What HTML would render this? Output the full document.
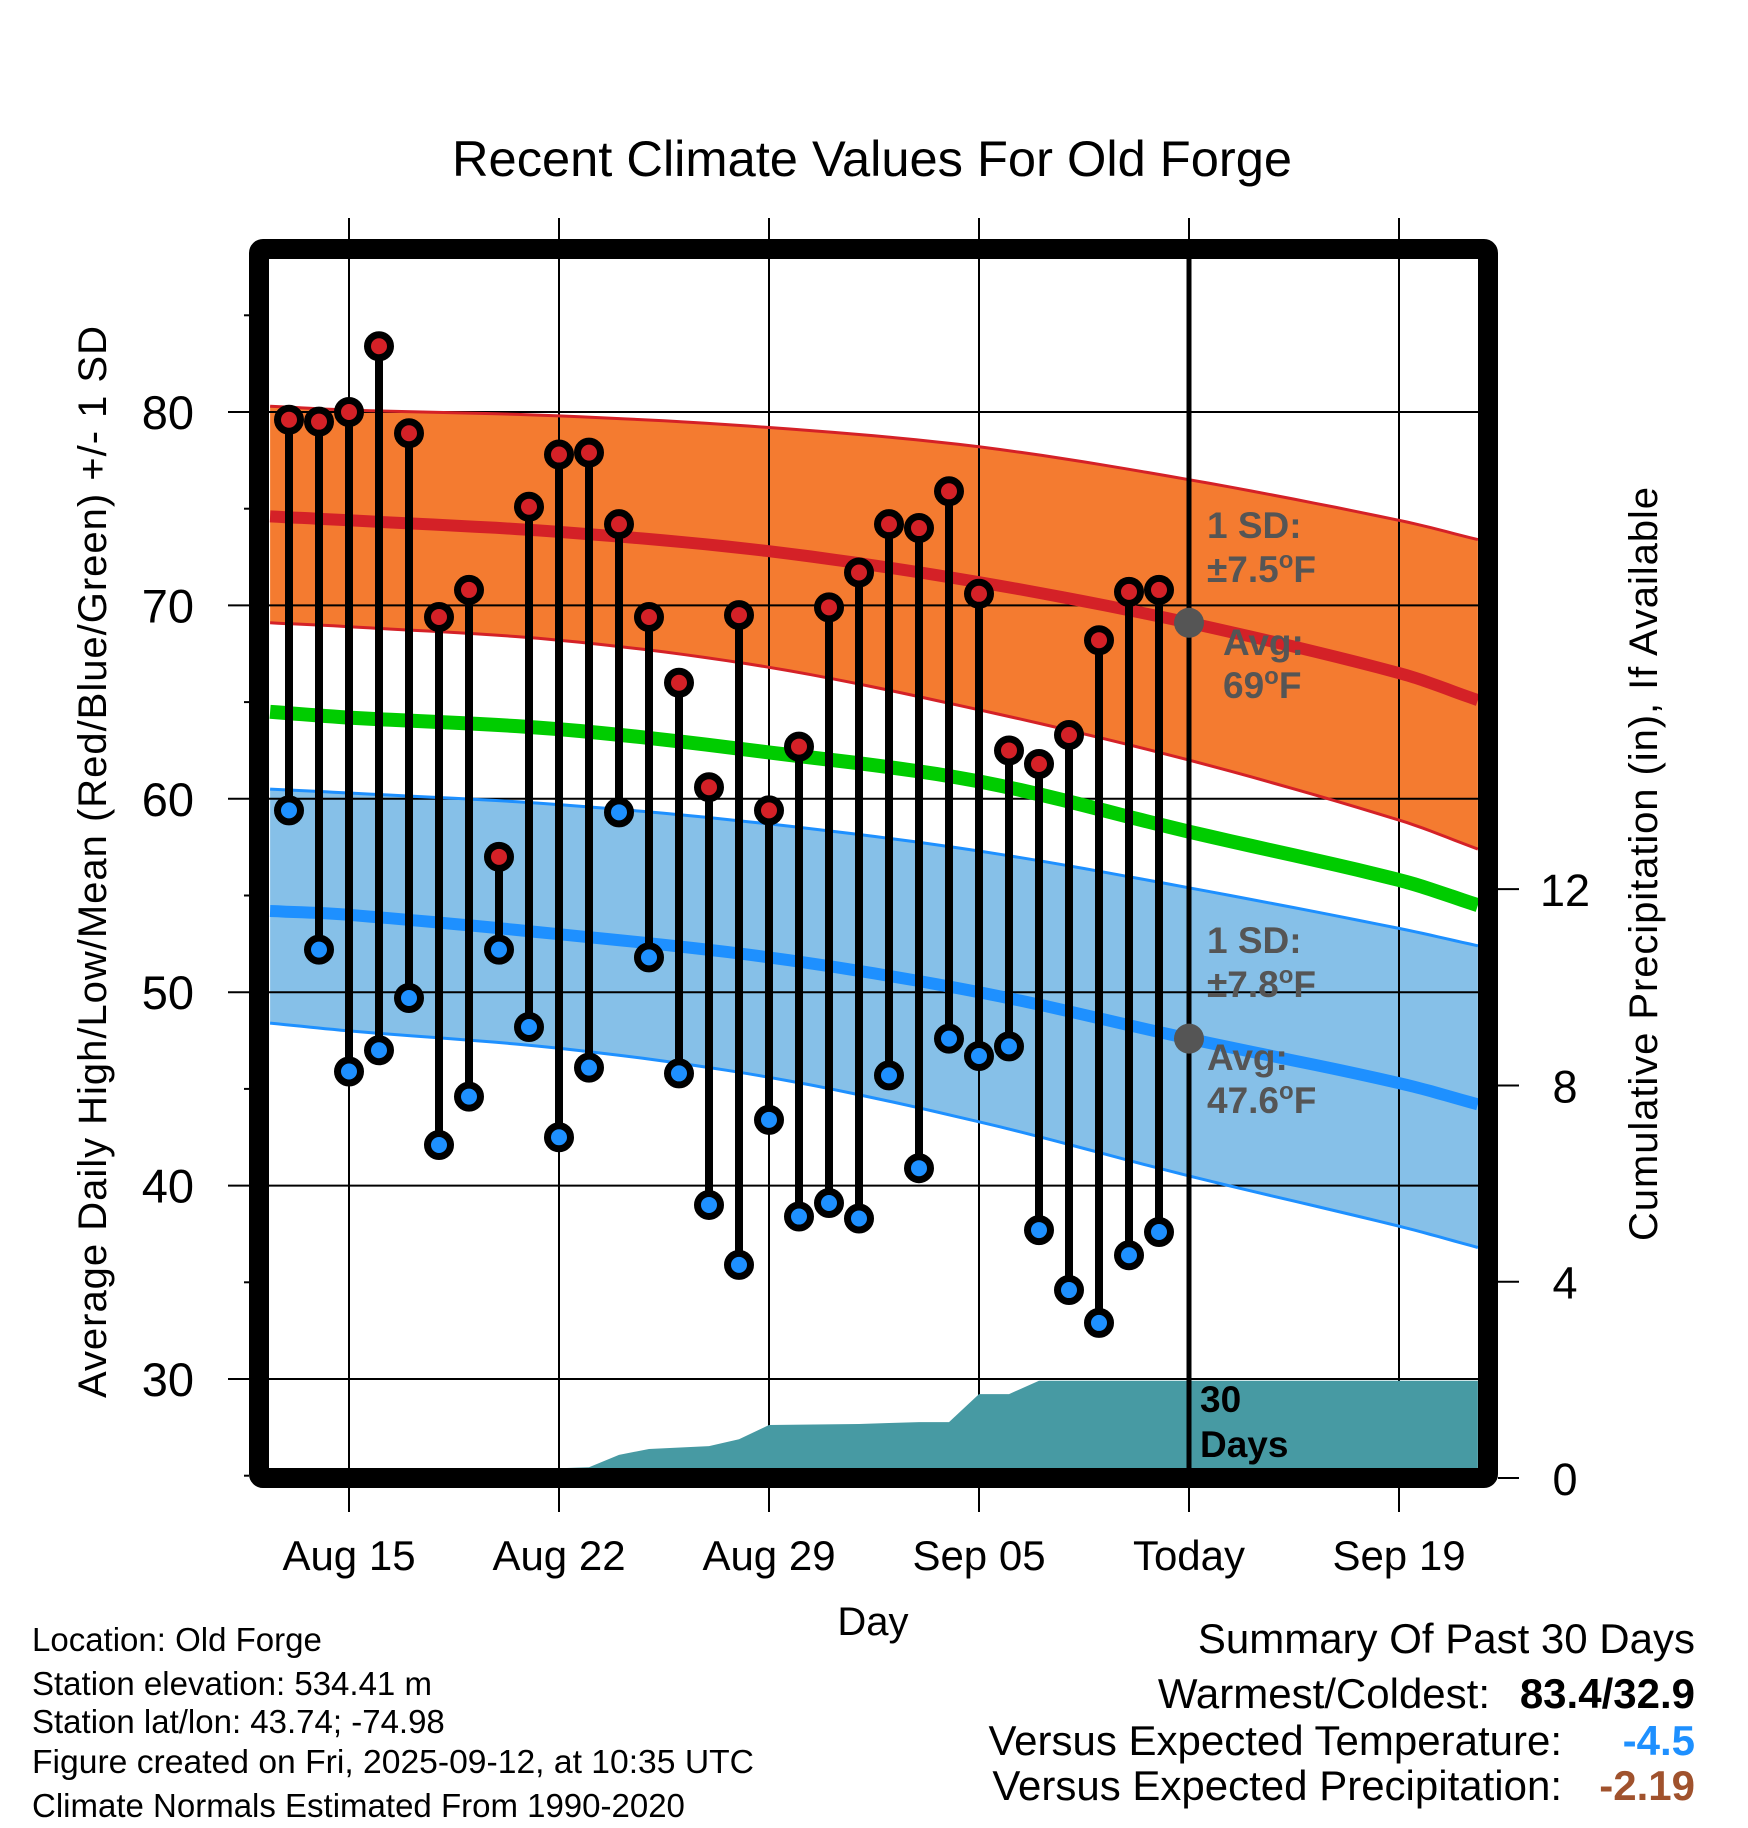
<!DOCTYPE html>
<html><head><meta charset="utf-8"><style>
html,body{margin:0;padding:0;background:#fff}
svg{display:block;font-family:"Liberation Sans",sans-serif}
</style></head><body>
<svg id="chart" width="1748" height="1828" viewBox="0 0 1748 1828" xmlns="http://www.w3.org/2000/svg">
<g id="bands"></g>
<g id="grid"></g>
<g id="precip"></g>
<g id="normals"></g>
<g id="obs"></g>
<g id="frame"></g>
<g id="labels"></g>
</svg>
<script>
// ---- data ----
const dayLabels = ["Aug 15","Aug 22","Aug 29","Sep 05","Today","Sep 19"];
const dayLabelIdx = [2,9,16,23,30,37];
const highs = [79.6,79.5,80.0,83.4,78.9,69.4,70.8,57.0,75.1,77.8,77.9,74.2,69.4,66.0,60.6,69.5,59.4,62.7,69.9,71.7,74.2,74.0,75.9,70.6,62.5,61.8,63.3,68.2,70.7,70.8];
const lows = [59.4,52.2,45.9,47.0,49.7,42.1,44.6,52.2,48.2,42.5,46.1,59.3,51.8,45.8,39.0,35.9,43.4,38.4,39.1,38.3,45.7,40.9,47.6,46.7,47.2,37.7,34.6,32.9,36.4,37.6];
const normDays = [-0.63,2,9,16,23,30,37,39.63];
const highUpper = [80.3,80.1,79.8,79.2,78.2,76.5,74.4,73.4];
const highMean = [74.6,74.4,73.8,72.8,71.2,69.1,66.5,65.1];
const highLower = [69.1,68.9,68.2,66.8,64.6,62.0,58.9,57.4];
const meanNorm = [64.5,64.2,63.6,62.4,60.9,58.3,55.8,54.5];
const lowUpper = [60.5,60.3,59.7,58.7,57.3,55.4,53.3,52.4];
const lowMean = [54.2,54.0,53.0,51.8,50.0,47.6,45.3,44.2];
const lowLower = [48.4,48.0,47.1,45.6,43.3,40.5,37.9,36.8];
const precipDays = [-0.63,6,7,9,10,11,12,14,15,16,19,20,21,22,23,24,25,29,39.63];
const precipVals = [0,0,0.2,0.2,0.22,0.47,0.59,0.65,0.79,1.08,1.10,1.12,1.14,1.14,1.71,1.71,1.98,1.98,1.98];
const tempTicks = [30,40,50,60,70,80];
const precipTicks = [0,4,8,12];
// ---- scales ----
const L=259,R=1488,T=249,B=1478;
const X=d=>289+30*d;
const Y=t=>412+(80-t)*19.34;
const P=p=>1478-p*49.07;
const NS="http://www.w3.org/2000/svg";
function mk(tag,parent,attrs){const e=document.createElementNS(NS,tag);for(const k in attrs)e.setAttribute(k,attrs[k]);document.getElementById(parent).appendChild(e);return e;}
// smooth sampling (Catmull-Rom) of a normal series
function smooth(ds,vs){const out=[];const n=ds.length;
  for(let i=0;i<n-1;i++){const p0=vs[Math.max(0,i-1)],p1=vs[i],p2=vs[i+1],p3=vs[Math.min(n-1,i+2)];
    const d0=ds[Math.max(0,i-1)],d1=ds[i],d2=ds[i+1],d3=ds[Math.min(n-1,i+2)];
    const m1=(p2-p0)/((d2-d0)||1)*(d2-d1),m2=(p3-p1)/((d3-d1)||1)*(d2-d1);
    for(let k=0;k<10;k++){const t=k/10,t2=t*t,t3=t2*t;
      const v=(2*t3-3*t2+1)*p1+(t3-2*t2+t)*m1+(-2*t3+3*t2)*p2+(t3-t2)*m2;
      out.push(X(d1+(d2-d1)*t).toFixed(1)+","+Y(v).toFixed(1));}}
  out.push(X(ds[n-1]).toFixed(1)+","+Y(vs[n-1]).toFixed(1));return out;}
let e;
e=mk('polygon','bands',{points:smooth(normDays,highUpper).concat(smooth(normDays,highLower).reverse()).join(' '),fill:'#F47B30'});


e=mk('polygon','bands',{points:smooth(normDays,lowUpper).concat(smooth(normDays,lowLower).reverse()).join(' '),fill:'#86C0E8'});


// grid
tempTicks.forEach(t=>{e=mk('line','grid',{x1:L,x2:R,y1:Y(t),y2:Y(t),stroke:'#000','stroke-width':2});

});
dayLabelIdx.forEach((d,i)=>{e=mk('line','grid',{x1:X(d),x2:X(d),y1:218,y2:1512,stroke:'#000','stroke-width':2});

});
// precip
e=mk('polygon','precip',{points:precipDays.map((d,i)=>X(d).toFixed(1)+","+P(precipVals[i]).toFixed(1)).concat([X(39.63)+","+P(0),X(-0.63)+","+P(0)]).join(' '),fill:'#479AA3'});


// band edges & normals
[[highUpper,'#D42127',3,'high-sd-upper'],[highLower,'#D42127',3,'high-sd-lower'],[lowUpper,'#1E90FF',3,'low-sd-upper'],[lowLower,'#1E90FF',3,'low-sd-lower'],[highMean,'#D42127',12,'avg-high-line'],[meanNorm,'#00CC00',14,'avg-mean-line'],[lowMean,'#1E90FF',12,'avg-low-line']].forEach(s=>{
e=mk('polyline','normals',{points:smooth(normDays,s[0]).join(' '),fill:'none',stroke:s[1],'stroke-width':s[2]});

});
e=mk('line','normals',{x1:X(30),x2:X(30),y1:T,y2:B,stroke:'#000','stroke-width':5});


// obs
highs.forEach((h,i)=>{
e=mk('line','obs',{x1:X(i),x2:X(i),y1:Y(h),y2:Y(lows[i]),stroke:'#000','stroke-width':8});

});
highs.forEach((h,i)=>{
e=mk('circle','obs',{cx:X(i),cy:Y(h),r:11.5,fill:'#D42127',stroke:'#000','stroke-width':7});


e=mk('circle','obs',{cx:X(i),cy:Y(lows[i]),r:11.5,fill:'#1E90FF',stroke:'#000','stroke-width':7});

});
e=mk('circle','obs',{cx:X(30),cy:Y(highMean[5]),r:15,fill:'#555'});


e=mk('circle','obs',{cx:X(30),cy:Y(lowMean[5]),r:15,fill:'#555'});


// frame
e=mk('rect','frame',{x:L,y:T,width:R-L,height:B-T,fill:'none',stroke:'#000','stroke-width':20,rx:4});


for(let t=25;t<=85;t+=5){e=mk('line','frame',{x1:(t%10==0)?228:244,x2:249,y1:Y(t),y2:Y(t),stroke:'#000','stroke-width':2});

}
precipTicks.forEach(p=>{e=mk('line','frame',{x1:1498,x2:1519,y1:P(p),y2:P(p),stroke:'#000','stroke-width':2});

});
function txt(s,x,y,a){const t=mk('text','labels',a);t.setAttribute('x',x);t.setAttribute('y',y);t.textContent=s;return t;}
tempTicks.forEach(t=>{e=txt(t,194,Y(t)+17,{'font-size':47,'text-anchor':'end'});

});
precipTicks.forEach(p=>{e=txt(p,1565,P(p)+17,{'font-size':45,'text-anchor':'middle'});

});
dayLabels.forEach((s,i)=>{e=txt(s,X(dayLabelIdx[i]),1570,{'font-size':42,'text-anchor':'middle'});

});
</script>
<svg style="position:absolute;left:0;top:0" width="1748" height="1828" font-family="Liberation Sans, sans-serif">
<text x="872" y="176" font-size="50" text-anchor="middle" textLength="840" lengthAdjust="spacingAndGlyphs">Recent Climate Values For Old Forge</text>
<text x="873" y="1635" font-size="40" text-anchor="middle">Day</text>
<text transform="translate(106,862) rotate(-90)" font-size="40" text-anchor="middle" textLength="1072">Average Daily High/Low/Mean (Red/Blue/Green) +/- 1 SD</text>
<text transform="translate(1657,864) rotate(-90)" font-size="40" text-anchor="middle" textLength="754">Cumulative Precipitation (in), If Available</text>
<g font-weight="bold" fill="#555" font-size="37">
<text x="1207" y="538">1 SD:</text>
<text x="1207" y="582">±7.5<tspan font-size="24" dy="-14">o</tspan><tspan dy="14">F</tspan></text>
<text x="1223" y="655">Avg:</text>
<text x="1223" y="698">69<tspan font-size="24" dy="-14">o</tspan><tspan dy="14">F</tspan></text>
<text x="1207" y="953">1 SD:</text>
<text x="1207" y="997">±7.8<tspan font-size="24" dy="-14">o</tspan><tspan dy="14">F</tspan></text>
<text x="1207" y="1070">Avg:</text>
<text x="1207" y="1113">47.6<tspan font-size="24" dy="-14">o</tspan><tspan dy="14">F</tspan></text>
</g>
<g font-weight="bold" fill="#000" font-size="37">
<text x="1200" y="1412">30</text>
<text x="1200" y="1457">Days</text>
</g>
<g font-size="33" fill="#000">
<text x="32" y="1651">Location: Old Forge</text>
<text x="32" y="1695">Station elevation: 534.41 m</text>
<text x="32" y="1733">Station lat/lon: 43.74; -74.98</text>
<text x="32" y="1773" textLength="722" lengthAdjust="spacingAndGlyphs">Figure created on Fri, 2025-09-12, at 10:35 UTC</text>
<text x="32" y="1817">Climate Normals Estimated From 1990-2020</text>
</g>
<g font-size="42" text-anchor="end">
<text x="1695" y="1653">Summary Of Past 30 Days</text>
<text x="1490" y="1708">Warmest/Coldest:</text>
<text x="1695" y="1708" font-weight="bold">83.4/32.9</text>
<text x="1562" y="1755">Versus Expected Temperature:</text>
<text x="1695" y="1755" font-weight="bold" fill="#1E90FF">-4.5</text>
<text x="1562" y="1800">Versus Expected Precipitation:</text>
<text x="1695" y="1800" font-weight="bold" fill="#A0522D">-2.19</text>
</g>
</svg>
</body></html>
